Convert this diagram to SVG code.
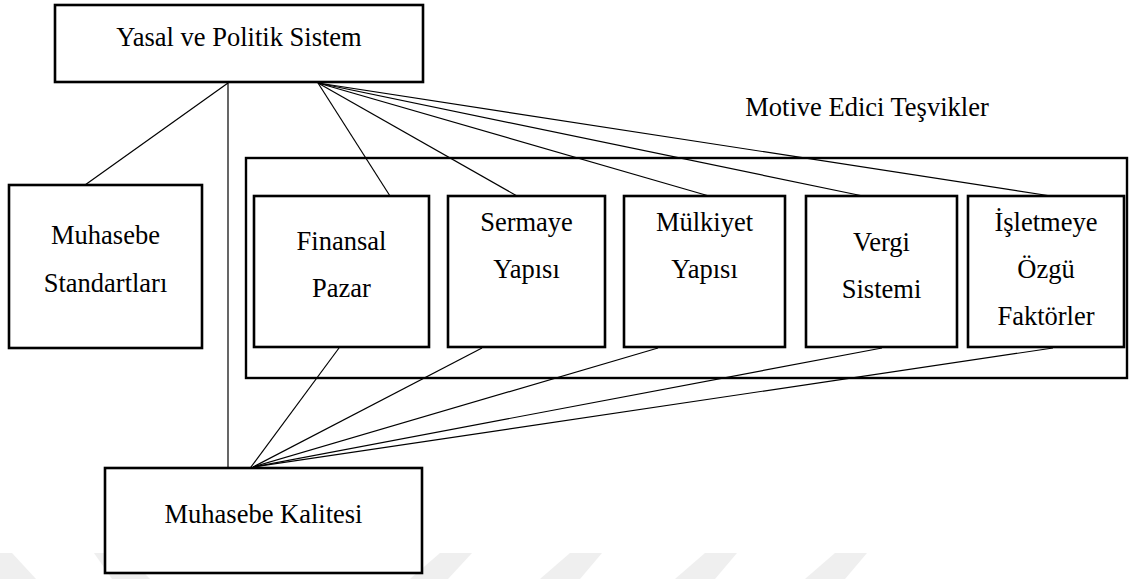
<svg xmlns="http://www.w3.org/2000/svg" width="1132" height="579" viewBox="0 0 1132 579">
<style>
.box{fill:#fff;stroke:#000;stroke-width:2.6}
.outer{fill:none;stroke:#000;stroke-width:2.4}
.t{font-family:"Liberation Serif","Times New Roman",serif;font-size:26.5px;fill:#000;text-anchor:middle}
.c line{stroke:#000;stroke-width:1.2}
.wm{fill:#efefef}
</style>
<rect width="1132" height="579" fill="#fff"/>
<g id="watermark">
<polygon class="wm" points="0,553 12,553 36,579 0,579"/>
<polygon class="wm" points="94,553 125,553 150,579 112,579"/>
<polygon class="wm" points="440,553 472,553 448,579 410,579"/>
<polygon class="wm" points="570,553 602,553 580,579 540,579"/>
<polygon class="wm" points="705,553 737,553 715,579 675,579"/>
<polygon class="wm" points="835,553 867,553 845,579 805,579"/>
</g>
<g id="motive-group">
<rect class="outer" x="246" y="158" width="881" height="220"/>
<text class="t" x="867" y="116">Motive Edici Teşvikler</text>
</g>
<g class="c" id="connectors">
<line x1="228" y1="83" x2="85" y2="185"/>
<line x1="228" y1="83" x2="228" y2="468"/>
<line x1="318" y1="83" x2="390" y2="196"/>
<line x1="318" y1="83" x2="517" y2="196"/>
<line x1="318" y1="83" x2="709" y2="196"/>
<line x1="318" y1="83" x2="863" y2="196"/>
<line x1="318" y1="83" x2="1051" y2="196"/>
<line x1="339" y1="348" x2="248" y2="471"/>
<line x1="482" y1="348" x2="253" y2="467"/>
<line x1="658" y1="348" x2="253" y2="467"/>
<line x1="882" y1="348" x2="253" y2="467"/>
<line x1="1053" y1="348" x2="253" y2="467"/>
</g>
<g id="yasal">
<rect class="box" x="55" y="5" width="368" height="77"/>
<text class="t" x="239" y="46">Yasal ve Politik Sistem</text>
</g>
<g id="standartlar">
<rect class="box" x="9" y="185" width="193" height="163"/>
<text class="t" x="105.5" y="244">Muhasebe</text>
<text class="t" x="105.5" y="292">Standartları</text>
</g>
<g id="finansal">
<rect class="box" x="254" y="196" width="175" height="151"/>
<text class="t" x="341.5" y="250">Finansal</text>
<text class="t" x="341.5" y="297">Pazar</text>
</g>
<g id="sermaye">
<rect class="box" x="448" y="196" width="157" height="151"/>
<text class="t" x="526.5" y="231">Sermaye</text>
<text class="t" x="526.5" y="278">Yapısı</text>
</g>
<g id="mulkiyet">
<rect class="box" x="624" y="196" width="161" height="151"/>
<text class="t" x="704.5" y="231">Mülkiyet</text>
<text class="t" x="704.5" y="278">Yapısı</text>
</g>
<g id="vergi">
<rect class="box" x="806" y="196" width="151" height="151"/>
<text class="t" x="881.5" y="251">Vergi</text>
<text class="t" x="881.5" y="298">Sistemi</text>
</g>
<g id="isletmeye">
<rect class="box" x="968" y="196" width="156" height="151"/>
<text class="t" x="1046" y="231">İşletmeye</text>
<text class="t" x="1046" y="278">Özgü</text>
<text class="t" x="1046" y="325">Faktörler</text>
</g>
<g id="kalite">
<rect class="box" x="105" y="468" width="317" height="105"/>
<text class="t" x="263.5" y="523">Muhasebe Kalitesi</text>
</g>
</svg>
